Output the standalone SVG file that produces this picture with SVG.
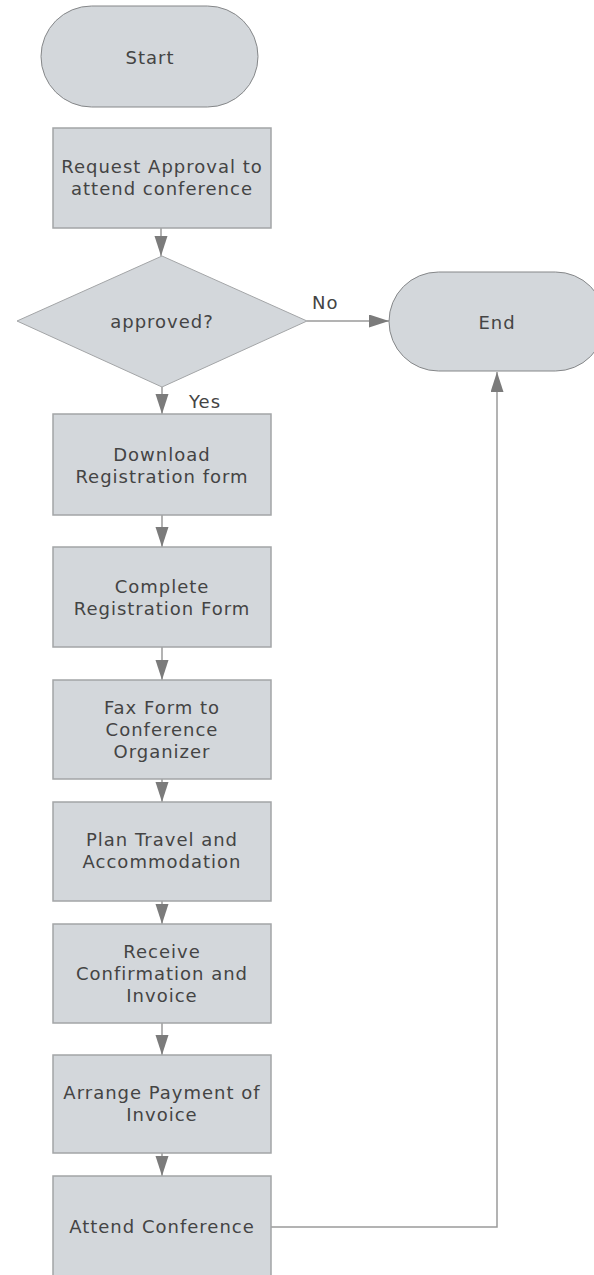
<svg xmlns="http://www.w3.org/2000/svg" width="594" height="1275" viewBox="0 0 594 1275">
<style>
.box{fill:#d3d7db;stroke:#a3a5a7;stroke-width:1.5}
.term{fill:#d3d7db;stroke:#858789;stroke-width:1}
.t{font-family:"DejaVu Sans",Verdana,sans-serif;font-size:18px;letter-spacing:1px;fill:#444;text-anchor:middle}
.lbl{font-family:"DejaVu Sans",Verdana,sans-serif;font-size:18px;letter-spacing:1px;fill:#444}
.c{fill:none;stroke:#9a9a9a;stroke-width:1.5}
</style>
<defs>
<marker id="ah" markerUnits="userSpaceOnUse" markerWidth="20" markerHeight="14" refX="20" refY="6.5" orient="auto">
<path d="M0,0 L20,6.5 L0,13 Z" fill="#7b7b7b"/>
</marker>
</defs>
<g id="connectors">
<path class="c" d="M161,228 V256" marker-end="url(#ah)"/>
<path class="c" d="M162,387 V414" marker-end="url(#ah)"/>
<path class="c" d="M307,321 H389" marker-end="url(#ah)"/>
<path class="c" d="M162,515 V547" marker-end="url(#ah)"/>
<path class="c" d="M162,647 V680" marker-end="url(#ah)"/>
<path class="c" d="M162,779 V802" marker-end="url(#ah)"/>
<path class="c" d="M162,901 V924" marker-end="url(#ah)"/>
<path class="c" d="M162,1023 V1055" marker-end="url(#ah)"/>
<path class="c" d="M162,1153 V1176" marker-end="url(#ah)"/>
<path class="c" d="M271,1227 H497 V372" marker-end="url(#ah)"/>
<text class="lbl" x="312" y="309">No</text>
<text class="lbl" x="189" y="408">Yes</text>
</g>
<g id="start">
<rect class="term" x="41" y="6" width="217" height="101" rx="50.5" ry="50.5"/>
<text class="t" x="150" y="64">Start</text>
</g>
<g id="request">
<rect class="box" x="53" y="128" width="218" height="100"/>
<text class="t" x="162" y="173">Request Approval to</text>
<text class="t" x="162" y="195">attend conference</text>
</g>
<g id="approved">
<polygon class="box" points="162,256 307,321 162,387 17,321" style="stroke-width:1"/>
<text class="t" x="162" y="328">approved?</text>
</g>
<g id="end">
<rect class="term" x="389" y="272" width="216" height="99" rx="49.5" ry="49.5"/>
<text class="t" x="497" y="329">End</text>
</g>
<g id="download">
<rect class="box" x="53" y="414" width="218" height="101"/>
<text class="t" x="162" y="461">Download</text>
<text class="t" x="162" y="483">Registration form</text>
</g>
<g id="complete">
<rect class="box" x="53" y="547" width="218" height="100"/>
<text class="t" x="162" y="593">Complete</text>
<text class="t" x="162" y="615">Registration Form</text>
</g>
<g id="fax">
<rect class="box" x="53" y="680" width="218" height="99"/>
<text class="t" x="162" y="714">Fax Form to</text>
<text class="t" x="162" y="736">Conference</text>
<text class="t" x="162" y="758">Organizer</text>
</g>
<g id="plan">
<rect class="box" x="53" y="802" width="218" height="99"/>
<text class="t" x="162" y="846">Plan Travel and</text>
<text class="t" x="162" y="868">Accommodation</text>
</g>
<g id="receive">
<rect class="box" x="53" y="924" width="218" height="99"/>
<text class="t" x="162" y="958">Receive</text>
<text class="t" x="162" y="980">Confirmation and</text>
<text class="t" x="162" y="1002">Invoice</text>
</g>
<g id="arrange">
<rect class="box" x="53" y="1055" width="218" height="98"/>
<text class="t" x="162" y="1099">Arrange Payment of</text>
<text class="t" x="162" y="1121">Invoice</text>
</g>
<g id="attend">
<rect class="box" x="53" y="1176" width="218" height="101"/>
<text class="t" x="162" y="1233">Attend Conference</text>
</g>
</svg>
